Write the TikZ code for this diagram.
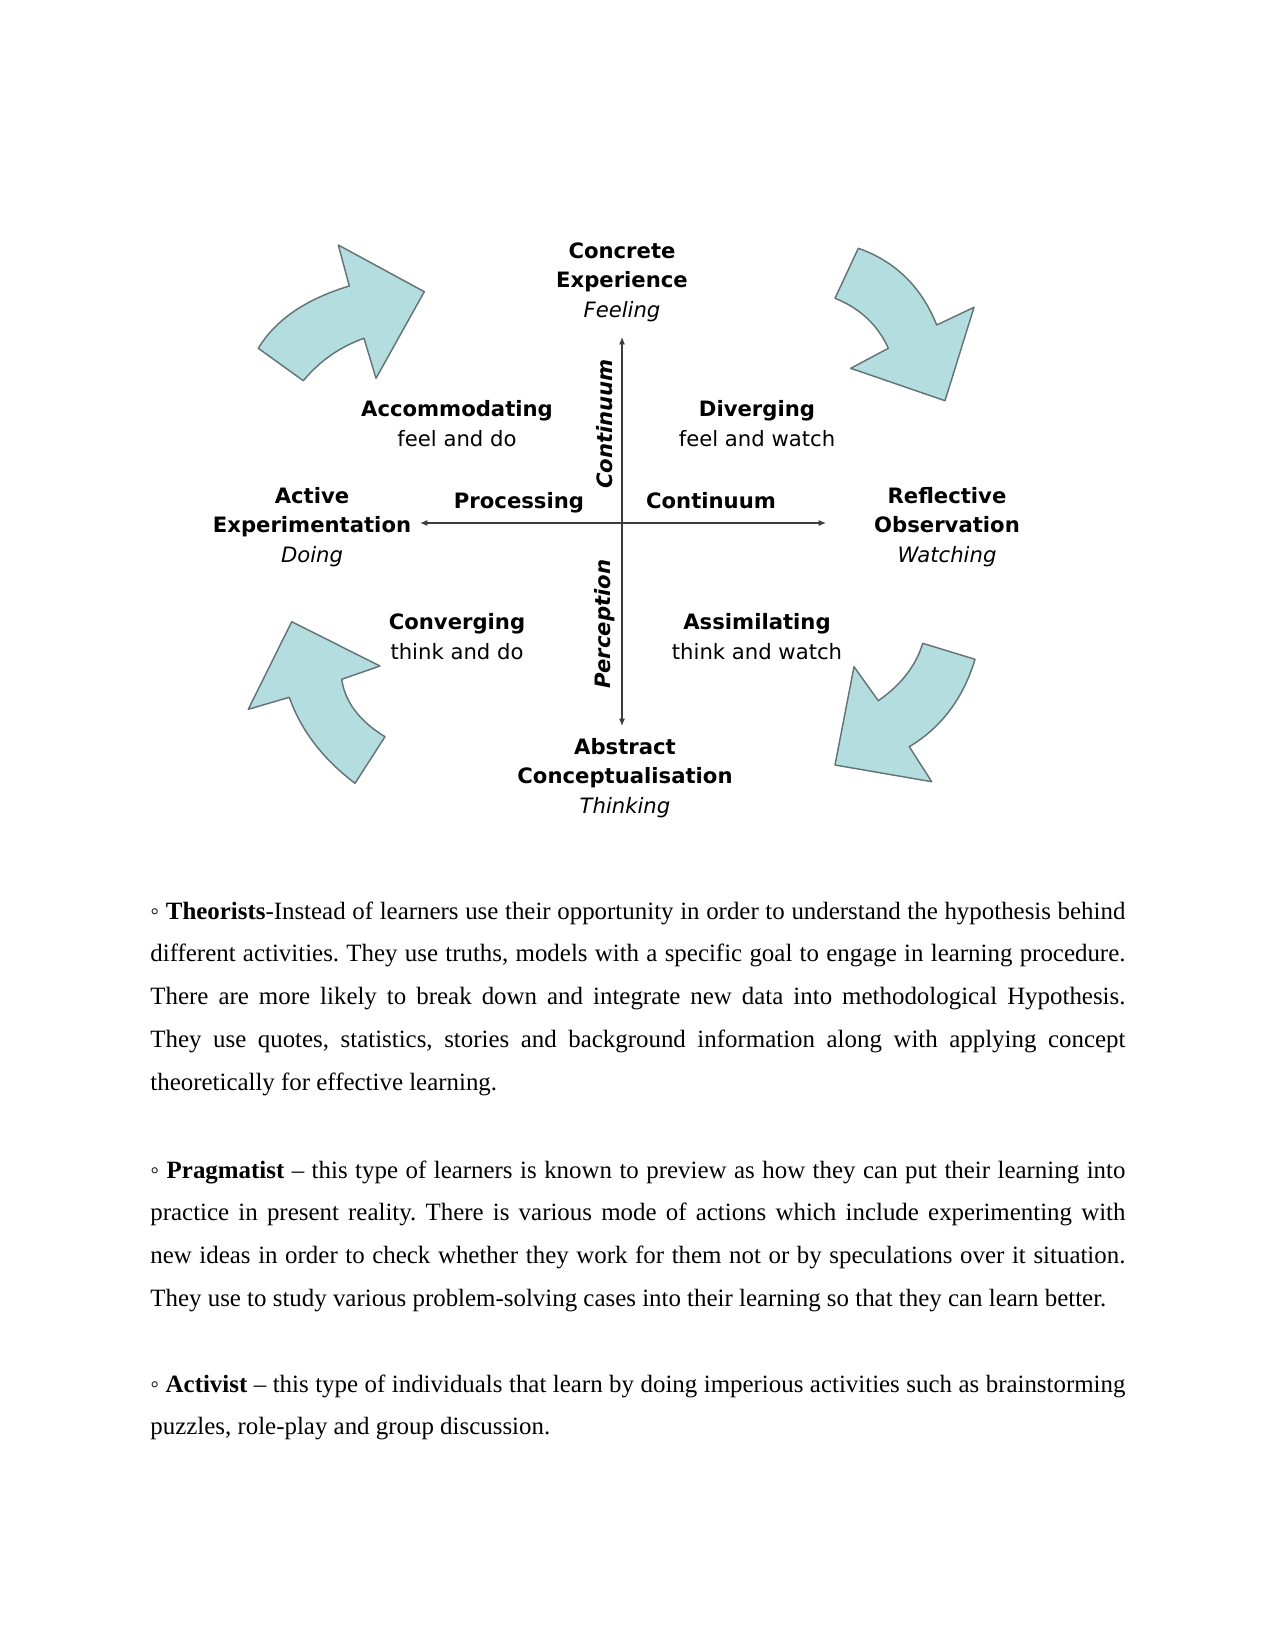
\documentclass[tikz,border=0pt]{standalone}
\usepackage{fontspec}
\setmainfont{Liberation Serif}
\newfontfamily\diagfont{DejaVu Sans}
\usetikzlibrary{arrows.meta}

\definecolor{cyclefill}{RGB}{180,221,224}
\definecolor{cycleedge}{RGB}{100,116,118}
\definecolor{axisgray}{RGB}{60,60,60}

\newcommand{\modeword}[1]{{\mdseries\itshape #1}}
\newcommand{\stylenote}[1]{{\mdseries #1}}

\begin{document}
\begin{tikzpicture}[
    x=0.169333mm, y=-0.169333mm,
    >={Latex[length=3.6pt,width=3pt]},
    pole/.style={
        font=\diagfont\bfseries\fontsize{10.2}{14}\selectfont,
        align=center,
        inner sep=0pt,
        anchor=base
    },
    quadrant/.style={
        pole
    },
    axislabel/.style={
        font=\diagfont\bfseries\fontsize{10.2}{14}\selectfont,
        inner sep=0pt
    },
    slanted/.style={
        font=\diagfont\bfseries\itshape\fontsize{10.2}{14}\selectfont,
        inner sep=0pt,
        rotate=90
    },
    axis/.style={
        <->,
        draw=axisgray,
        line width=0.6pt
    },
    cyclearrow/.style={
        fill=cyclefill,
        draw=cycleedge,
        line width=0.7pt,
        line join=round
    },
    para/.style={
        font=\fontsize{12}{20.7}\selectfont,
        text width=6.5in,
        align=justify,
        inner sep=0pt,
        anchor=base west,
        execute at begin node={\frenchspacing\tolerance=9999\hyphenpenalty=10000\parindent=0pt}
    }
]
\useasboundingbox (0,0) rectangle (1275,1650);

% Axes
\coordinate (axtop) at (622,337);
\coordinate (axbottom) at (622,726);
\coordinate (axleft) at (420,523);
\coordinate (axright) at (826,523);
\draw[axis] (axtop) -- (axbottom);
\draw[axis] (axleft) -- (axright);

% Poles (base = last line)
\node[pole] (concrete) at (622,317) {Concrete\\Experience\\\modeword{Feeling}};
\node[pole] (reflective) at (947,562) {Reflective\\Observation\\\modeword{Watching}};
\node[pole] (abstract) at (625,813) {Abstract\\Conceptualisation\\\modeword{Thinking}};
\node[pole] (active) at (312,562) {Active\\Experimentation\\\modeword{Doing}};

% Quadrants
\node[quadrant] (diverging) at (757,446) {Diverging\\\stylenote{feel and watch}};
\node[quadrant] (accommodating) at (457,446) {Accommodating\\\stylenote{feel and do}};
\node[quadrant] (converging) at (457,659) {Converging\\\stylenote{think and do}};
\node[quadrant] (assimilating) at (757,659) {Assimilating\\\stylenote{think and watch}};

% Axis labels
\node[axislabel, anchor=base] (processing) at (519,508) {Processing};
\node[axislabel, anchor=base] (continuumh) at (711,508) {Continuum};
\node[slanted] (continuumv) at (605,424) {Continuum};
\node[slanted] (perception) at (605,624) {Perception};

% Cycle arrows
\filldraw[cyclearrow] (258.3,348.3) -- (303.3,380.7)
    .. controls (319.9,360.8) and (340.1,346.7) .. (364,338.3)
    -- (376,378.3) -- (424.3,291.7) -- (338.3,245) -- (349.3,286)
    .. controls (305.8,299.1) and (275.4,319.9) .. (258.3,348.3) -- cycle;
\filldraw[cyclearrow] (858.3,248.3) -- (835,298.3)
    .. controls (860.1,308.3) and (877.8,325) .. (888.3,348.3)
    -- (850.7,368.3) -- (945,400.7) -- (974,307.3) -- (936.7,325)
    .. controls (921.4,286.8) and (895.2,261.2) .. (858.3,248.3) -- cycle;
\filldraw[cyclearrow] (922.7,643.3) -- (975,659.3)
    .. controls (963.3,698.2) and (941.4,727.4) .. (909.3,746.7)
    -- (931.7,781.7) -- (835,765) -- (854,666.7) -- (878.3,700.7)
    .. controls (901.2,684.7) and (916,665.6) .. (922.7,643.3) -- cycle;
\filldraw[cyclearrow] (291.7,621.7) -- (380,666) -- (341.7,679.3)
    .. controls (345,702) and (359.5,721.1) .. (385,736.7)
    -- (355,783.3)
    .. controls (322.8,758.9) and (300.9,730.2) .. (289.3,697.3)
    -- (248.3,709.3) -- cycle;

% Text below
\node[para] (theorists) at (150,919) {◦ \textbf{Theorists}-Instead of learners use their opportunity in order to understand the hypothesis behind\linebreak
different activities. They use truths, models with a specific goal to engage in learning procedure.\linebreak
There are more likely to break down and integrate new data into methodological Hypothesis.\linebreak
They use quotes, statistics, stories and background information along with applying concept\linebreak
theoretically for effective learning.};
\node[para] (pragmatist) at (150,1178) {◦ \textbf{Pragmatist} – this type of learners is known to preview as how they can put their learning into\linebreak
practice in present reality. There is various mode of actions which include experimenting with\linebreak
new ideas in order to check whether they work for them not or by speculations over it situation.\linebreak
They use to study various problem-solving cases into their learning so that they can learn better.};
\node[para] (activist) at (150,1392) {◦ \textbf{Activist} – this type of individuals that learn by doing imperious activities such as brainstorming\linebreak
puzzles, role-play and group discussion.};

\end{tikzpicture}
\end{document}
